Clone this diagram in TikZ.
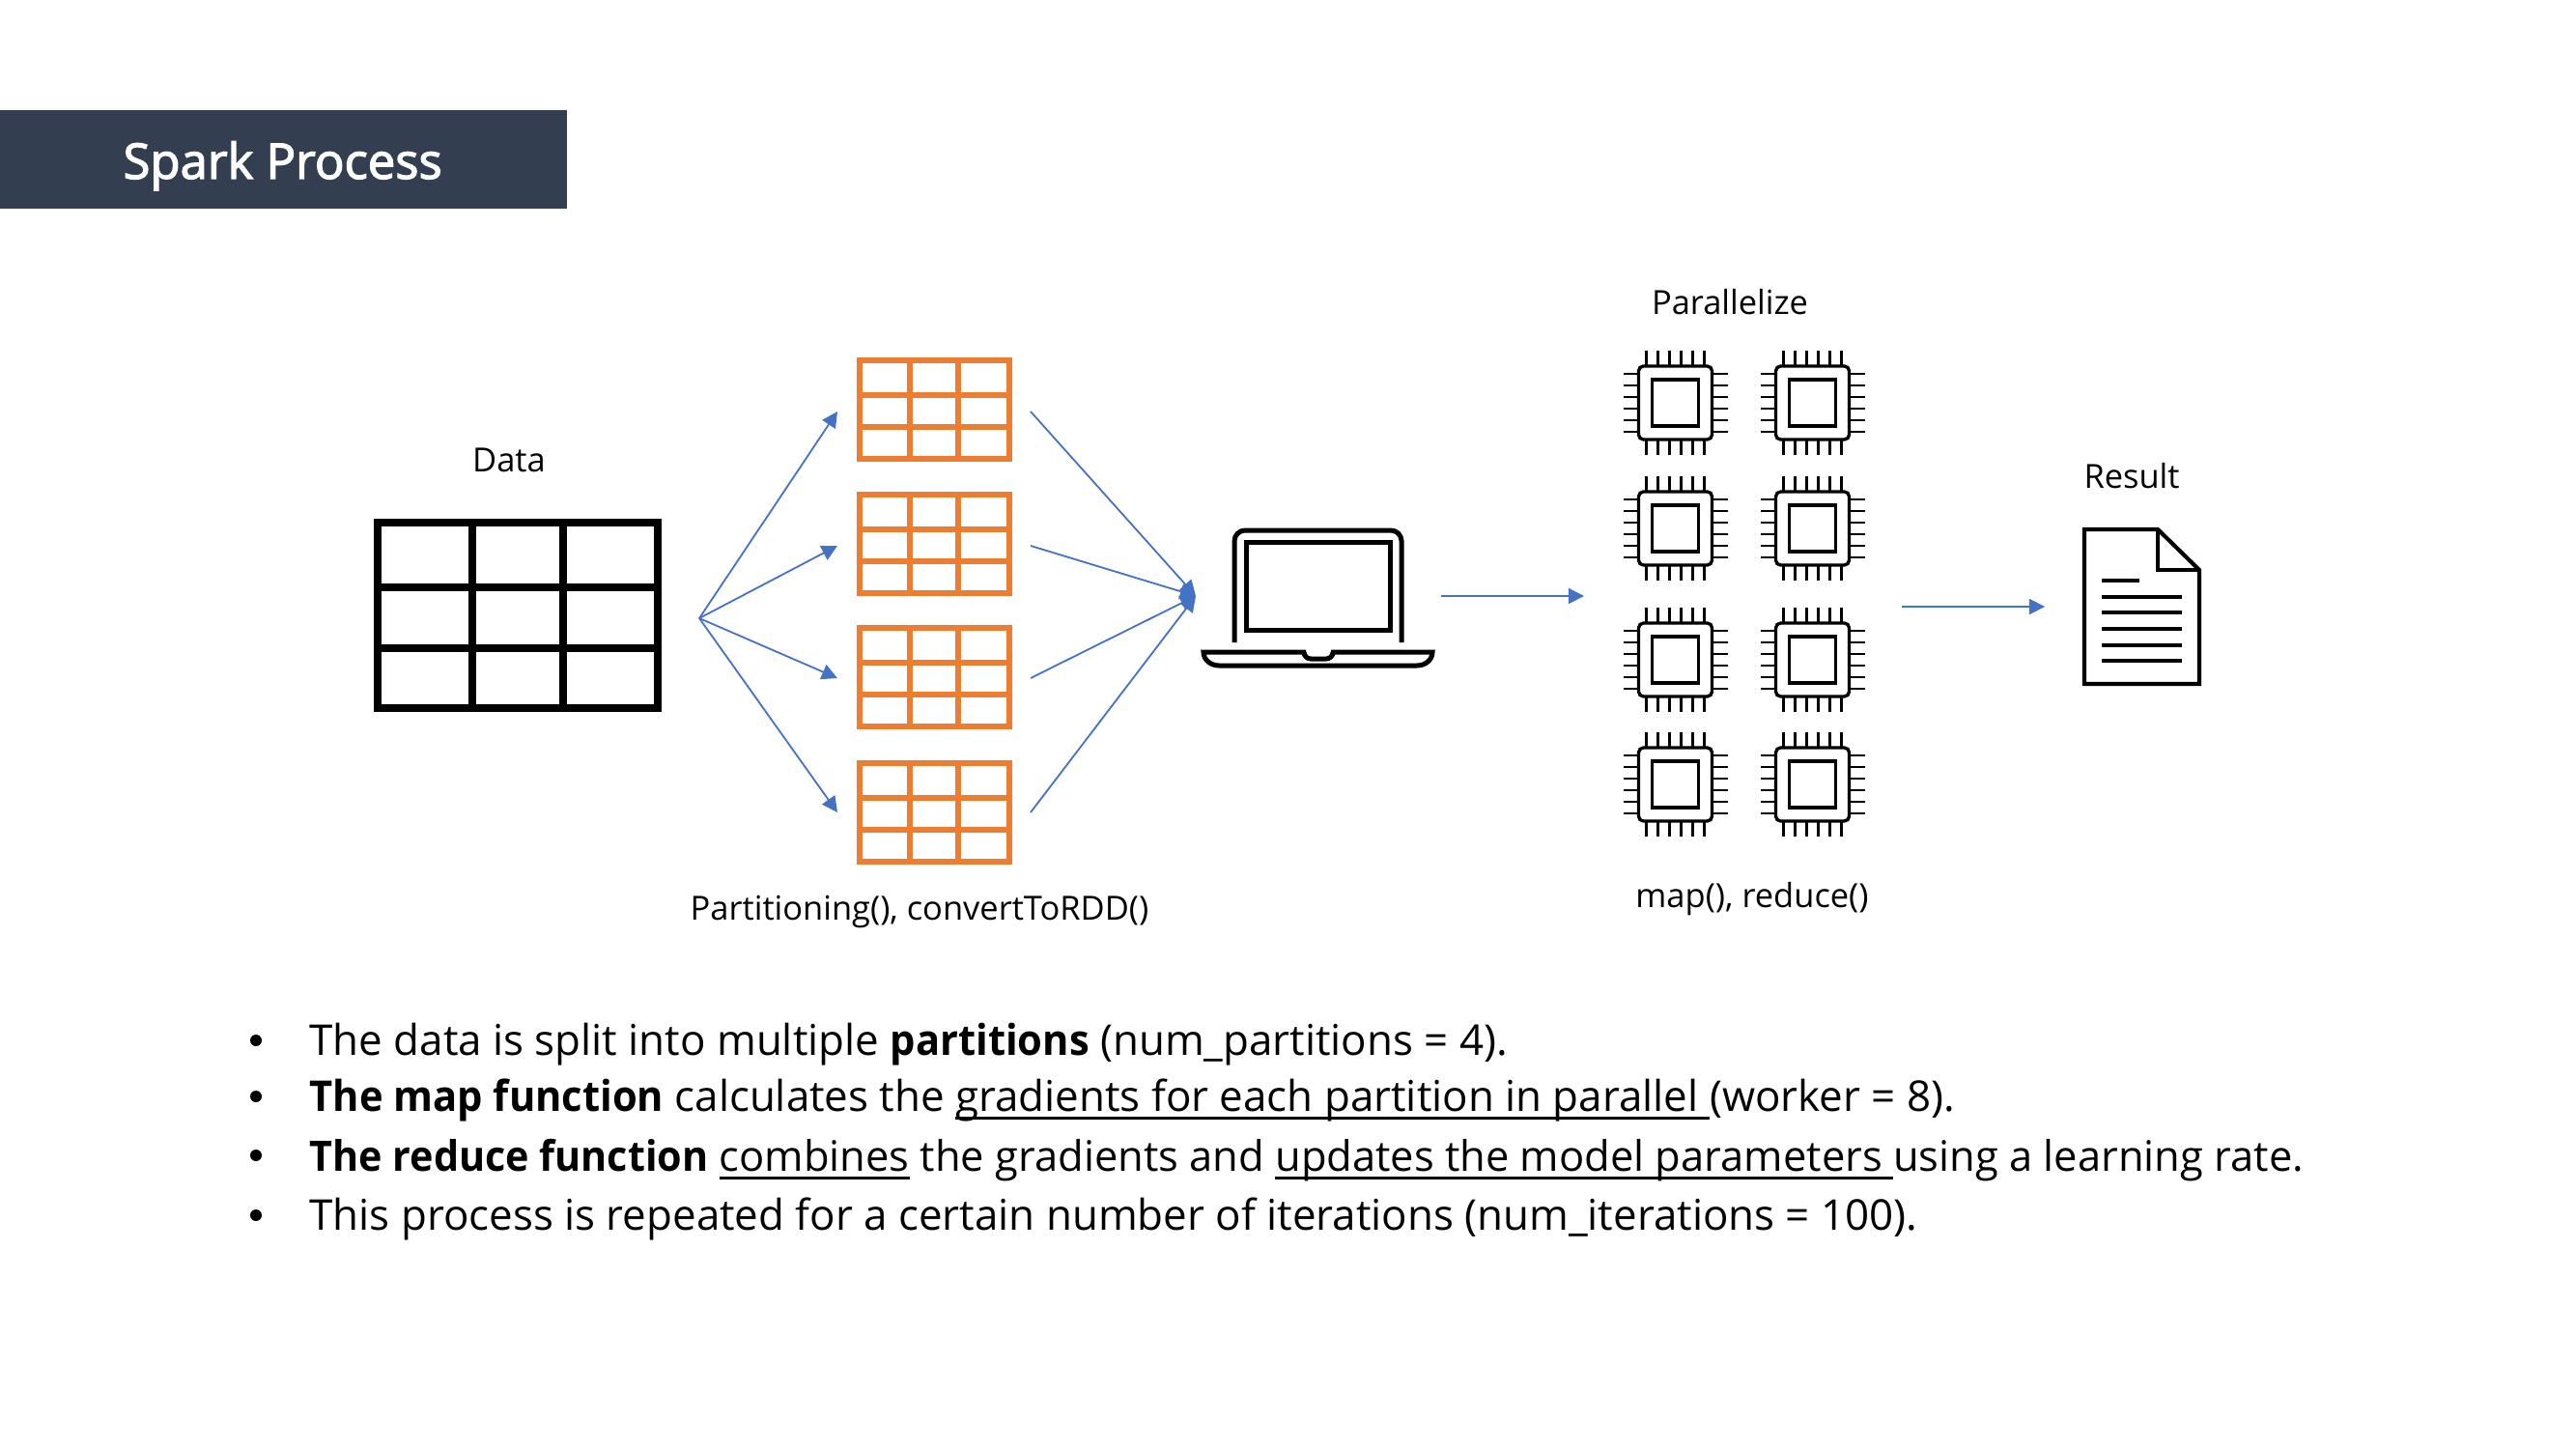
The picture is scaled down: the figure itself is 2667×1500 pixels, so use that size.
\documentclass[tikz,border=0pt]{standalone}
\usepackage{fontspec}
\setmainfont{Open Sans}[BoldFeatures={FakeStretch=0.95}]
\newfontfamily\titlefont{Open Sans}[FakeBold=2.5]
\usetikzlibrary{arrows.meta}
\definecolor{titlefill}{HTML}{333F50}
\definecolor{flowblue}{HTML}{4472C4}
\definecolor{partorange}{HTML}{ED7D31}
\newcommand{\lineunder}[1]{\setbox0\hbox{#1}\rlap{\rule[-3.1pt]{\wd0}{0.8pt}}\box0\relax}
\tikzset{
  flow/.style={draw=flowblue, line width=0.65pt, -{Triangle[length=5.8pt,width=5.8pt]}},
  label/.style={font=\fontsize{12.4}{14}\selectfont, inner sep=0pt},
  bullet/.style={font=\fontsize{15.8}{19}\selectfont, inner sep=0pt, anchor=base west},
  parttable/.pic={
    \draw[partorange, line width=2.3pt] (0,0) rectangle (155,102);
    \draw[partorange, line width=2.3pt] (52,0) -- (52,102) (102,0) -- (102,102) (0,36) -- (155,36) (0,69) -- (155,69);
  },
  chip/.pic={
    \draw[line width=1.2pt, rounded corners=1.8pt] (-38,-38) rectangle (38,38);
    \draw[line width=1.2pt] (-24,-24) rectangle (24,24);
    \foreach \p in {-30,-18,-6,6,18,30} {
      \draw[line width=1.05pt] (\p,-38) -- (\p,-54);
      \draw[line width=1.05pt] (\p,38) -- (\p,54);
      \draw[line width=1.05pt] (-38,\p) -- (-54,\p);
      \draw[line width=1.05pt] (38,\p) -- (54,\p);
    }
  }
}
\begin{document}
\begin{tikzpicture}[x=0.36pt,y=-0.36pt]
\useasboundingbox (0,0) rectangle (2667,1500);

% title
\fill[titlefill] (0,114) rectangle (587,216);
\node[font=\fontsize{18.3}{22}\selectfont\titlefont, text=white, inner sep=0pt, anchor=base west] (title) at (127,185) {Spark Process};

% data table
\draw[line width=2.9pt] (391,541) rectangle (681,733);
\draw[line width=2.9pt] (489,541) -- (489,733) (583,541) -- (583,733) (391,608) -- (681,608) (391,671) -- (681,671);
\node[label] (data) at (527,476) {Data};

% partitions
\foreach \y/\n in {373/1,512/2,650/3,790/4}
  \pic (part\n) at (890,\y) {parttable};
\node[label] (partlabel) at (952,944) {Partitioning(), convertToRDD()};

\coordinate (fanout) at (724,640);
\coordinate (fanin) at (1238,617);
\coordinate (in1) at (867,426);
\coordinate (in2) at (867,565);
\coordinate (in3) at (867,702);
\coordinate (in4) at (867,841);
\coordinate (out1) at (1067,426);
\coordinate (out2) at (1067,565);
\coordinate (out3) at (1067,702);
\coordinate (out4) at (1067,841);
\foreach \n in {1,2,3,4} {
  \draw[flow] (fanout) -- (in\n);
  \draw[flow] (out\n) -- (fanin);
}

% laptop
\draw[line width=1.8pt, rounded corners=4pt] (1278,665) -- (1278,549) -- (1451,549) -- (1451,665);
\draw[line width=1.8pt] (1290,561) rectangle (1439,652);
\draw[line width=1.8pt] (1352,675) -- (1246,675) to[out=-90,in=180] (1262,689) -- (1467,689) to[out=0,in=-90] (1483,675) -- (1378,675);
\draw[line width=1.8pt] (1350,675) to[out=-90,in=180] (1357,682) -- (1373,682) to[out=0,in=-90] (1380,675);

\coordinate (sendstart) at (1492,617);
\coordinate (sendend) at (1640,617);
\draw[flow] (sendstart) -- (sendend);

% workers
\foreach \y/\r in {417/1,547/2,683/3,812/4} {
  \pic (chipa\r) at (1734.5,\y) {chip};
  \pic (chipb\r) at (1876.5,\y) {chip};
}
\node[label] (parallel) at (1791,313) {Parallelize};
\node[label] (maplabel) at (1814,931) {map(), reduce()};

\coordinate (resstart) at (1969,628);
\coordinate (resend) at (2117,628);
\draw[flow] (resstart) -- (resend);

% document
\draw[line width=1.5pt, line join=miter] (2234,548) -- (2158,548) -- (2158,708) -- (2277,708) -- (2277,590) -- cycle;
\draw[line width=1.5pt] (2234,548) -- (2234,590) -- (2277,590);
\foreach \y/\e in {601/2215,618/2259,634/2259,651/2259,668/2259,684/2259}
  \draw[line width=1.3pt] (2176,\y) -- (\e,\y);
\node[label] (result) at (2207,493) {Result};

% bullets
\foreach \y/\n in {1077/1,1135/2,1196/3,1258/4}
  \fill (265,\y) circle (6);
\node[bullet] (line1) at (320,1092) {The data is split into multiple \textbf{partitions} (num\_partitions = 4).};
\node[bullet] (line2) at (320,1150) {\textbf{The map function} calculates the \lineunder{gradients for each partition in parallel\ }(worker = 8).};
\node[bullet, font=\fontsize{15.65}{19}\selectfont] (line3) at (320,1212) {\textbf{The reduce function} \lineunder{combines} the gradients and \lineunder{updates the model parameters\ }using a learning rate.};
\node[bullet] (line4) at (320,1273) {This process is repeated for a certain number of iterations (num\_iterations = 100).};
\end{tikzpicture}
\end{document}
